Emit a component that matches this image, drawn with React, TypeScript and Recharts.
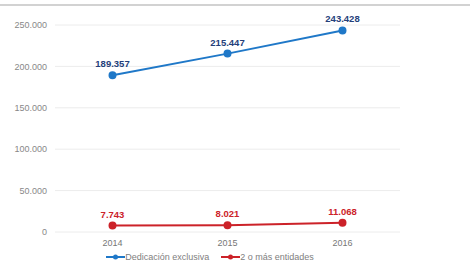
import { LineChart, Line, XAxis, YAxis, CartesianGrid, Legend, LabelList } from "recharts"

const years = ["2014", "2015", "2016"]
const exclusiva = [189357, 215447, 243428]
const entidades = [7743, 8021, 11068]
const yTicks = [0, 50000, 100000, 150000, 200000, 250000]

const seriesNames = ["Dedicación exclusiva", "2 o más entidades"]
const seriesColors = ["#1f78c8", "#cc2229"]

const data = years.map((year, i) => ({
  year,
  exclusiva: exclusiva[i],
  entidades: entidades[i],
}))

const fmt = (v: any) => String(v).replace(/\B(?=(\d{3})+(?!\d))/g, ".")

const FONT = '"Liberation Sans", Arial, sans-serif'

function LegendContent() {
  return (
    <div style={{ display: "flex", justifyContent: "center", gap: 12, fontFamily: FONT, fontSize: 9, color: "#808080" }}>
      {seriesNames.map((name, i) => (
        <div key={name} style={{ display: "flex", alignItems: "center" }}>
          <svg width={19} height={8}>
            <line x1={0} y1={4} x2={19} y2={4} stroke={seriesColors[i]} strokeWidth={2} />
            <circle cx={9.5} cy={4} r={2.5} fill={seriesColors[i]} />
          </svg>
          <span>{name}</span>
        </div>
      ))}
    </div>
  )
}

export default function App() {
  return (
    <div style={{ position: "absolute", left: 0, top: 0, width: 470, height: 274, background: "#fff" }}>
      <div style={{ position: "absolute", left: 0, top: 4, width: 470, height: 2, background: "#d2d2d2" }} />
      <LineChart width={470} height={274} data={data} margin={{ top: 25, right: 70, left: 0, bottom: 0 }}>
        <CartesianGrid vertical={false} stroke="#ececec" />
        <XAxis
          dataKey="year"
          scale="band"
          axisLine={false}
          tickLine={false}
          height={20}
          tick={{ fill: "#777", fontSize: 9, fontFamily: FONT }}
        />
        <YAxis
          width={55}
          domain={[0, 250000]}
          ticks={yTicks}
          axisLine={false}
          tickLine={false}
          tickFormatter={fmt}
          tick={{ fill: "#888", fontSize: 9, fontFamily: FONT }}
        />
        <Legend verticalAlign="bottom" height={22} content={<LegendContent />} wrapperStyle={{ left: 10 }} />
        <Line
          name={seriesNames[0]}
          dataKey="exclusiva"
          stroke={seriesColors[0]}
          strokeWidth={2}
          dot={{ r: 3, fill: seriesColors[0], stroke: seriesColors[0] }}
          isAnimationActive={false}
        >
          <LabelList dataKey="exclusiva" position="top" offset={8} formatter={fmt} fill="#24407a" fontSize={9.5} fontWeight="bold" fontFamily={FONT} />
        </Line>
        <Line
          name={seriesNames[1]}
          dataKey="entidades"
          stroke={seriesColors[1]}
          strokeWidth={2}
          dot={{ r: 3, fill: seriesColors[1], stroke: seriesColors[1] }}
          isAnimationActive={false}
        >
          <LabelList dataKey="entidades" position="top" offset={8} formatter={fmt} fill={seriesColors[1]} fontSize={9.5} fontWeight="bold" fontFamily={FONT} />
        </Line>
      </LineChart>
    </div>
  )
}
